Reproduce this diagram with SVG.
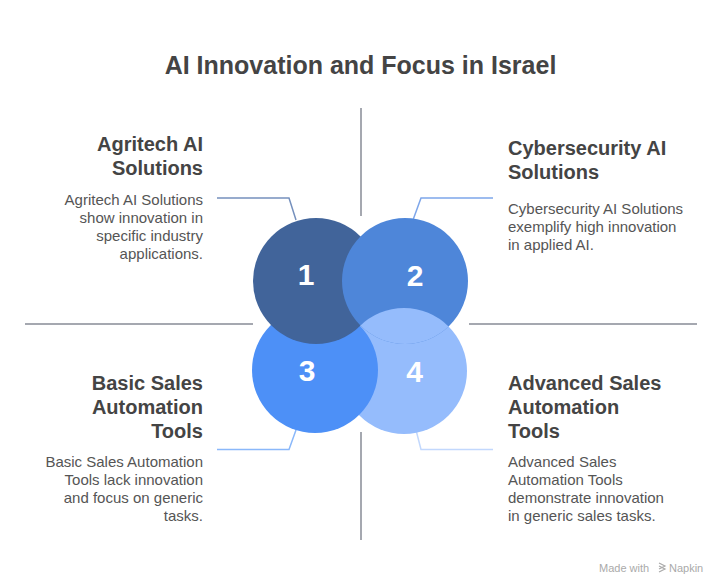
<svg xmlns="http://www.w3.org/2000/svg" width="721" height="586" viewBox="0 0 721 586">
<defs>
<style>
.title{font-family:"Liberation Sans",Arial,sans-serif;font-weight:bold;font-size:25px;fill:#444444;}
.head{font-family:"Liberation Sans",Arial,sans-serif;font-weight:bold;font-size:20px;fill:#444444;}
.desc{font-family:"Liberation Sans",Arial,sans-serif;font-size:15px;fill:#555555;}
.num{font-family:"Liberation Sans",Arial,sans-serif;font-weight:bold;font-size:30px;fill:#ffffff;text-anchor:middle;}
.axis{stroke:#a5a8b0;stroke-width:2;fill:none;}
.conn{stroke-width:1.5;fill:none;}
.foot{font-family:"Liberation Sans",Arial,sans-serif;font-size:11px;fill:#aaaaaa;}
</style>
<clipPath id="clip2"><circle cx="405" cy="281" r="63"/></clipPath>
</defs>
<rect width="721" height="586" fill="#ffffff"/>
<text class="title" x="360.5" y="74" text-anchor="middle">AI Innovation and Focus in Israel</text>

<g id="axes">
<line class="axis" x1="361" y1="108" x2="361" y2="216"/>
<line class="axis" x1="361" y1="432" x2="361" y2="540"/>
<line class="axis" x1="25" y1="324" x2="253" y2="324"/>
<line class="axis" x1="469" y1="324" x2="697" y2="324"/>
</g>

<g id="connectors">
<polyline class="conn" stroke="#7590bd" points="217,198 289,198 296,220"/>
<polyline class="conn" stroke="#7ea6ea" points="493,198 421,198 413,220"/>
<polyline class="conn" stroke="#8ab8fa" points="217,449.5 289,449.5 296,430"/>
<polyline class="conn" stroke="#c2d8fd" points="493,449.5 421,449.5 416,430"/>
</g>

<g id="circles">
<circle id="c4" cx="404" cy="371" r="63" fill="#95bcfc"/>
<circle id="c3" cx="315" cy="370" r="63" fill="#4d90f7"/>
<circle id="c1" cx="316" cy="281" r="63" fill="#41649a"/>
<circle id="c2" cx="405" cy="281" r="63" fill="#4e86d9"/>
<circle cx="404" cy="371" r="63" fill="#95bcfc" clip-path="url(#clip2)"/>
</g>

<g id="node1">
<text class="num" x="306" y="285">1</text>
<text class="head" x="203" y="150.5" text-anchor="end">Agritech AI</text>
<text class="head" x="203" y="174.5" text-anchor="end">Solutions</text>
<text class="desc" x="203" text-anchor="end"><tspan x="203" y="204.5">Agritech AI Solutions</tspan><tspan x="203" y="222.5">show innovation in</tspan><tspan x="203" y="240.5">specific industry</tspan><tspan x="203" y="258.5">applications.</tspan></text>
</g>

<g id="node2">
<text class="num" x="415" y="286">2</text>
<text class="head" x="508" y="155">Cybersecurity AI</text>
<text class="head" x="508" y="179">Solutions</text>
<text class="desc"><tspan x="508" y="214">Cybersecurity AI Solutions</tspan><tspan x="508" y="232">exemplify high innovation</tspan><tspan x="508" y="250">in applied AI.</tspan></text>
</g>

<g id="node3">
<text class="num" x="307" y="381">3</text>
<text class="head" x="203" y="390" text-anchor="end">Basic Sales</text>
<text class="head" x="203" y="414" text-anchor="end">Automation</text>
<text class="head" x="203" y="438" text-anchor="end">Tools</text>
<text class="desc" text-anchor="end"><tspan x="203" y="467">Basic Sales Automation</tspan><tspan x="203" y="485">Tools lack innovation</tspan><tspan x="203" y="503">and focus on generic</tspan><tspan x="203" y="521">tasks.</tspan></text>
</g>

<g id="node4">
<text class="num" x="414.5" y="382">4</text>
<text class="head" x="508" y="390">Advanced Sales</text>
<text class="head" x="508" y="414">Automation</text>
<text class="head" x="508" y="438">Tools</text>
<text class="desc"><tspan x="508" y="467">Advanced Sales</tspan><tspan x="508" y="485">Automation Tools</tspan><tspan x="508" y="503">demonstrate innovation</tspan><tspan x="508" y="521">in generic sales tasks.</tspan></text>
</g>

<g id="footer">
<text class="foot" x="599" y="572">Made with</text>
<g stroke="#aaaaaa" stroke-width="1.2" fill="none">
<polyline points="659,563 665,566 659,569"/>
<polyline points="659,566 665,569 659,572"/>
</g>
<text class="foot" x="669" y="572">Napkin</text>
</g>
</svg>
